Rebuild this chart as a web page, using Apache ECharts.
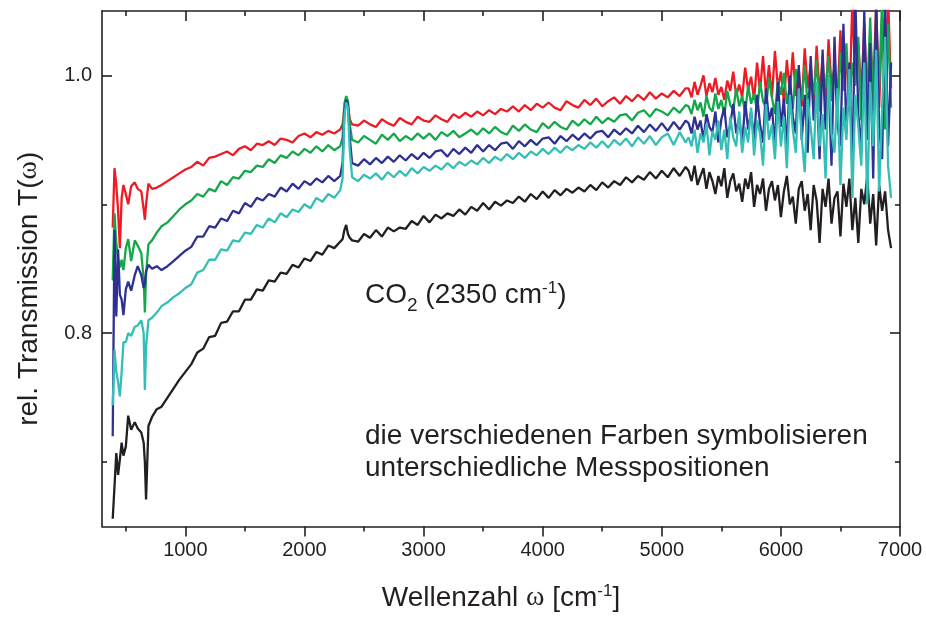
<!DOCTYPE html>
<html>
<head>
<meta charset="utf-8">
<script src="https://cdn.jsdelivr.net/npm/echarts@6/dist/echarts.min.js"></script>
<style>
  html, body { margin: 0; padding: 0; background: #fff; }
  #chart { width: 926px; height: 617px; }
</style>
</head>
<body>
<div id="chart"></div>
<script>
// wavenumbers (cm-1) shared by all five spectra
const X = [
  390, 405, 420, 435, 450, 465, 480, 500, 520, 545, 575, 600, 630, 650, 660, 670, 690, 720, 760, 800, 850, 900, 950, 1000,
  1050, 1100, 1150, 1200, 1250, 1300, 1350, 1400, 1450, 1500, 1550, 1600, 1650, 1700, 1750, 1800, 1850, 1900, 1950, 2000,
  2050, 2100, 2150, 2200, 2250, 2300,
  2320, 2335, 2350, 2365, 2380, 2400,
  2450, 2500, 2550, 2600, 2650, 2700, 2750, 2800, 2850, 2900, 2950, 3000,
  3050, 3100, 3150, 3200, 3250, 3300, 3350, 3400, 3450, 3500,
  3550, 3600, 3650, 3700, 3750, 3800, 3850, 3900, 3950, 4000,
  4050, 4100, 4150, 4200, 4250, 4300, 4350, 4400, 4450, 4500,
  4550, 4600, 4650, 4700, 4750, 4800, 4850, 4900, 4950, 5000,
  5050, 5100, 5150, 5200,
  5225, 5250, 5275, 5300, 5325, 5350, 5375, 5400, 5425, 5450,
  5475, 5500, 5525, 5550, 5575, 5600, 5625, 5650, 5675, 5700,
  5725, 5750, 5775, 5800, 5825, 5850, 5875, 5900, 5925, 5950,
  5975, 6000, 6025, 6050, 6075, 6100, 6125, 6150, 6175, 6200,
  6225, 6250, 6275, 6300, 6325, 6350, 6375, 6400, 6425, 6450,
  6475, 6500, 6525, 6550, 6575, 6600, 6625, 6650, 6675, 6700,
  6725, 6750, 6775, 6800, 6825, 6850, 6875, 6900, 6925
]

// transmission x 1000
const red = [
  882, 928, 915, 895, 866, 905, 915, 908, 900, 914, 917, 912, 910, 896, 888, 900, 916, 912, 913, 915, 918, 921, 924, 927,
  929, 933, 930, 936, 937, 939, 941, 938, 943, 945, 942, 947, 946, 949, 946, 951, 950, 948, 953, 955,
  952, 956, 954, 957, 955, 958,
  962, 974, 978, 976, 966, 962,
  961, 965, 962, 960, 966, 963, 961, 967, 964, 962, 968, 965,
  964, 969, 966, 964, 970, 967, 971, 968, 972, 969,
  973, 970, 974, 972, 976, 972, 977, 973, 978, 975,
  979, 975, 973, 980, 977, 975, 981, 977, 982, 976,
  980, 983, 978, 984, 980, 985, 981, 987, 982, 986,
  983, 988, 984, 990,
  990, 983, 995, 985, 992, 1000, 984, 994, 987, 998,
  985, 991, 981, 996, 988, 1003, 984, 993, 983, 1006,
  989, 999, 981, 1010, 988, 1015, 986, 1008, 983, 1019,
  990, 1003, 979, 1012, 987, 1018, 984, 1005, 976, 1021,
  990, 1009, 978, 1023, 985, 1014, 974, 1028, 992, 1006,
  981, 1035, 988, 1015, 972, 1060, 995, 1025, 985, 1040,
  978, 1030, 990, 1055, 975, 1045, 985, 1060, 990
]
const green = [
  841, 893, 870, 857, 851, 857, 849, 866, 873, 856, 872, 868, 862, 842, 816, 846, 869, 872, 878, 883, 886, 891, 896, 900,
  903, 908, 906, 912, 910, 918, 915, 921, 920, 926, 925, 930, 929, 935, 932, 938, 936, 941, 938, 943,
  940, 945, 941, 946, 942, 945,
  952, 978, 984, 980, 962, 950,
  948, 953, 950, 947, 954, 950, 955, 949, 953, 950, 955, 951,
  955, 950, 956, 953, 957, 952, 955, 958, 954, 959,
  955, 960, 956, 954, 961, 957, 962, 958, 956, 963,
  959, 964, 960, 958, 965, 961, 966, 962, 968, 963,
  967, 964, 969, 970, 965, 971, 973, 968, 974, 972,
  969, 975, 971, 977,
  976, 970, 981, 973, 979, 968, 984, 975, 972, 986,
  974, 981, 969, 988, 977, 973, 990, 976, 984, 971,
  992, 978, 986, 972, 995, 980, 975, 998, 983, 970,
  996, 985, 1002, 978, 992, 974, 1005, 988, 981, 1008,
  976, 998, 985, 1012, 972, 1003, 990, 1015, 980, 1006,
  968, 1018, 988, 1025, 975, 1010, 992, 1030, 965, 1020,
  985, 1045, 970, 1035, 990, 1060, 958, 1040, 975
]
const blue = [
  720, 880, 813, 865, 830, 826, 814, 834, 840, 833, 845, 852, 845, 835, 838, 848, 853, 850, 852, 849, 852, 856, 860, 864,
  867, 875, 875, 883, 882, 889, 887, 895, 893, 901, 898, 905, 903, 908, 906, 913, 910, 916, 912, 918,
  915, 920, 917, 922, 918, 922,
  932, 972, 981, 978, 952, 932,
  930, 935, 931, 936, 932, 937, 933, 938, 934, 939, 935, 940,
  936, 941, 942, 937, 943, 939, 944, 940, 946, 941,
  946, 942, 947, 948, 943, 949, 945, 950, 946, 951,
  952, 947, 953, 949, 954, 950, 955, 951, 956, 957,
  952, 958, 954, 959, 955, 961, 956, 962, 957, 963,
  957, 964, 958, 965,
  963, 955, 968, 958, 965, 950, 970, 960, 956, 972,
  948, 966, 975, 952, 962, 978, 955, 968, 945, 980,
  958, 972, 950, 985, 962, 948, 990, 965, 975, 945,
  995, 960, 982, 942, 1000, 968, 955, 1008, 950, 985,
  940, 1015, 965, 992, 935, 1020, 958, 1000, 930, 1030,
  962, 945, 1040, 955, 1010, 925, 1060, 970, 940, 1050,
  950, 1025, 920, 1060, 960, 935, 1055, 945, 1010
]
const cyan = [
  744, 787, 770, 762, 751, 770, 793, 793, 800, 798, 805, 806, 810, 800, 756, 790, 810, 812, 816, 821, 824, 828, 831, 835,
  838, 847, 849, 857, 857, 865, 864, 872, 871, 878, 877, 884, 882, 889, 886, 893, 890, 896, 894, 900,
  897, 905, 902, 908, 905, 911,
  920, 968, 979, 975, 942, 921,
  918, 923, 920, 924, 919, 925, 921, 926, 922, 928, 924, 929,
  926, 930, 927, 932, 928, 933, 930, 934, 931, 936,
  932, 937, 934, 939, 935, 940, 936, 941, 938, 943,
  939, 944, 940, 945, 942, 946, 943, 948, 944, 949,
  944, 950, 946, 951, 945, 952, 947, 953, 946, 952,
  955, 946, 956, 948,
  952, 945, 958, 940, 955, 948, 962, 938, 957, 950,
  965, 942, 958, 935, 968, 952, 945, 972, 940, 960,
  948, 975, 938, 965, 955, 930, 978, 950, 962, 935,
  980, 945, 968, 928, 985, 958, 940, 990, 952, 925,
  982, 960, 935, 995, 945, 970, 920, 1000, 955, 940,
  990, 915, 975, 950, 1005, 905, 985, 960, 930, 1010,
  900, 995, 945, 1020, 910, 975, 1030, 930, 905
]
const black = [
  656, 681, 707, 690, 702, 715, 705, 712, 736, 725, 731, 726, 723, 715, 700, 671, 728, 735, 741, 743, 750, 757, 764, 770,
  776, 785, 788, 797, 798, 808, 809, 817, 817, 826, 826, 834, 833, 841, 840, 847, 846, 853, 851, 858,
  856, 863, 861, 868, 866, 871,
  873, 880, 884, 877, 874, 872,
  871, 877, 874, 880, 875, 882, 879, 882, 881, 887, 884, 891,
  886, 892, 889, 893, 891, 896, 892, 898, 895, 901,
  896, 902, 899, 903, 901, 906, 902, 908, 904, 910,
  905, 911, 907, 912, 909, 913, 910, 915, 911, 917,
  913, 918, 915, 921, 917, 922, 919, 925, 920, 926,
  921, 928, 922, 929,
  926, 918, 930, 915, 922, 928, 912, 925, 918, 908,
  922, 914, 928, 905, 918, 924, 910, 916, 902, 920,
  912, 925, 898, 915, 908, 920, 895, 912, 918, 903,
  915, 890, 910, 922, 900, 906, 885, 912, 918, 895,
  908, 880, 915, 903, 870, 912, 898, 920, 885, 905,
  910, 875, 916, 898, 920, 880, 905, 870, 912, 900,
  922, 885, 908, 868, 915, 895, 910, 880, 866
]

const xMajor = [1000, 2000, 3000, 4000, 5000, 6000, 7000]
const xMinor = [500, 1500, 2500, 3500, 4500, 5500, 6500]
const yMajor = [0.8, 1.0]
const yMinor = [0.7, 0.9]

const ink = "#231f20"
const font = "Liberation Sans"

const pts = vals => vals.map((v, i) => [X[i], v / 1000])

function xAx(position, ticks, len, inside, labels) {
    return {
        type: "value",
        position: position,
        min: 300,
        max: 7000,
        axisLine: { show: labels !== null, onZero: false, lineStyle: { color: ink, width: 1.6 } },
        axisTick: { customValues: ticks, inside: inside, length: len, lineStyle: { color: ink, width: 1.6 } },
        axisLabel: labels
            ? { customValues: ticks, color: ink, fontFamily: font, fontSize: 20, margin: 14, formatter: v => String(v) }
            : { show: false },
        splitLine: { show: false },
    }
}
function yAx(position, ticks, len, labels) {
    return {
        type: "value",
        position: position,
        min: 0.65,
        max: 1.05,
        axisLine: { show: labels !== null, onZero: false, lineStyle: { color: ink, width: 1.6 } },
        axisTick: { customValues: ticks, inside: true, length: len, lineStyle: { color: ink, width: 1.6 } },
        axisLabel: labels
            ? { customValues: ticks, color: ink, fontFamily: font, fontSize: 20, margin: 10, formatter: v => v.toFixed(1) }
            : { show: false },
        splitLine: { show: false },
    }
}

const xBottom = xAx("bottom", xMajor, 10, false, true)
xBottom.name = "Wellenzahl {om|ω} [cm{sup|-1}]"
xBottom.nameLocation = "middle"
xBottom.nameGap = 56
xBottom.nameTextStyle = {
    color: ink, fontFamily: font, fontSize: 28,
    rich: {
        om: { fontFamily: "Liberation Serif", fontSize: 28, color: ink },
        sup: { fontSize: 17, color: ink, padding: [0, 0, 14, 0] },
    },
}

const yLeft = yAx("left", yMajor, 10, true)
yLeft.name = "rel. Transmission T({om|ω})"
yLeft.nameLocation = "middle"
yLeft.nameRotate = 90
yLeft.nameGap = 59
yLeft.nameTextStyle = {
    color: ink, fontFamily: font, fontSize: 28, padding: [0, 40, 0, 0],
    rich: { om: { fontFamily: "Liberation Serif", fontSize: 28, color: ink } },
}

const line = (name, color, vals) => ({
    name: name,
    type: "line",
    xAxisIndex: 0,
    yAxisIndex: 0,
    showSymbol: false,
    data: pts(vals),
    lineStyle: { color: color, width: 2.3 },
    itemStyle: { color: color },
})

const option = {
    animation: false,
    backgroundColor: "#fff",
    grid: { left: 102, right: 26, top: 11, bottom: 90 },
    xAxis: [
        xBottom,
        xAx("bottom", xMinor, 5, false, null),
        xAx("top", xMajor, 10, true, false),
        xAx("top", xMinor, 5, true, null),
    ],
    yAxis: [
        yLeft,
        yAx("left", yMinor, 5, null),
        yAx("right", yMajor, 10, false),
        yAx("right", yMinor, 5, null),
    ],
    series: [
        line("schwarz", "#231f20", black),
        line("rot", "#ed1c24", red),
        line("grün", "#14a84b", green),
        line("blau", "#2e3192", blue),
        line("türkis", "#33bfb5", cyan),
    ],
    graphic: [
        {
            type: "text",
            left: 365,
            top: 280,
            style: {
                text: "{a|CO}{sub|2}{a| (2350 cm}{sup|-1}{a|)}",
                fill: ink,
                rich: {
                    a: { fontFamily: font, fontSize: 28, fill: ink },
                    sub: { fontFamily: font, fontSize: 19, fill: ink, padding: [20, 0, 0, 0] },
                    sup: { fontFamily: font, fontSize: 17, fill: ink, padding: [0, 0, 14, 0] },
                },
            },
        },
        {
            type: "text",
            left: 365,
            top: 420,
            style: {
                text: "die verschiedenen Farben symbolisieren\nunterschiedliche Messpositionen",
                fill: ink,
                font: "28px " + font,
                lineHeight: 32,
            },
        },
    ],
}

// the top and right axes keep their line but get no labels
option.xAxis[2].axisLine.show = true
option.yAxis[2].axisLine.show = true

const chart = echarts.init(document.getElementById("chart"), null, { renderer: "canvas" })
chart.setOption(option)
</script>
</body>
</html>
